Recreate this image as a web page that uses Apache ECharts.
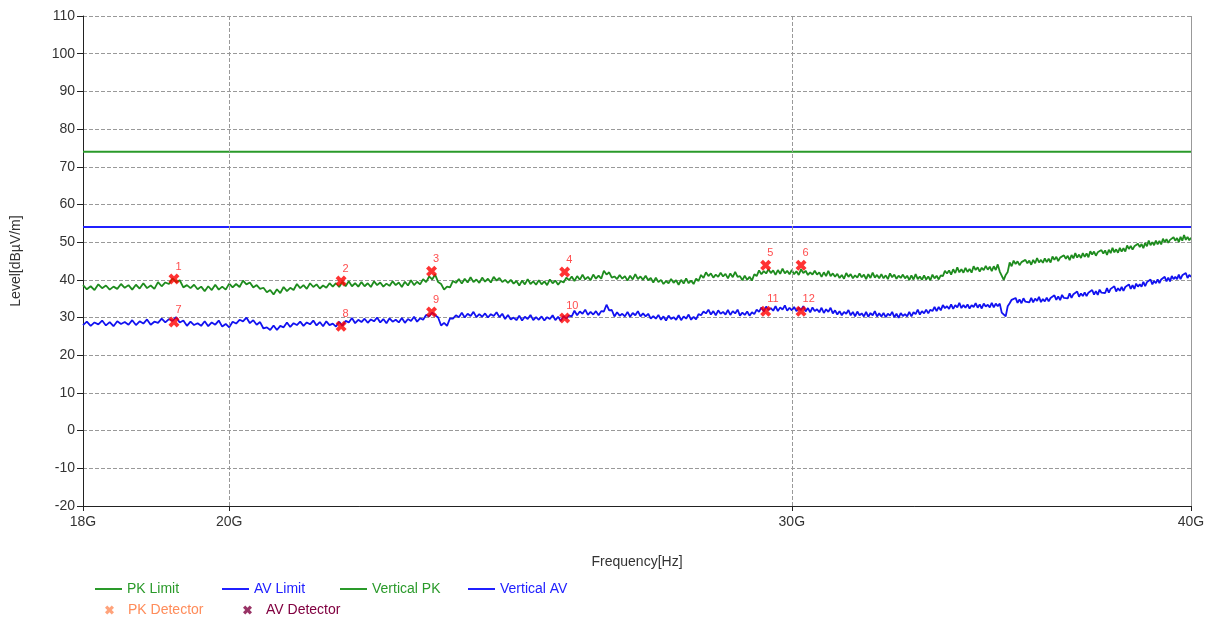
<!DOCTYPE html>
<html><head><meta charset="utf-8">
<script src="https://cdn.jsdelivr.net/npm/echarts@6/dist/echarts.min.js"></script>
<style>html,body{margin:0;padding:0;background:#fff}#c{width:1213px;height:622px}</style>
</head><body><div id="c"></div>
<script>
const freqGHz = [
18,18.05,18.1,18.15,18.2,18.25,18.3,18.35,18.4,18.45,18.5,18.55,18.6,18.65,18.7,18.75,18.8,18.85,18.9,18.95,
19,19.05,19.1,19.15,19.2,19.25,19.3,19.35,19.4,19.45,19.5,19.55,19.6,19.65,19.7,19.75,19.8,19.85,19.9,19.95,
20,20.05,20.1,20.15,20.2,20.25,20.3,20.35,20.4,20.45,20.5,20.55,20.6,20.65,20.7,20.75,20.8,20.85,20.9,20.95,
21,21.05,21.1,21.15,21.2,21.25,21.3,21.35,21.4,21.45,21.5,21.55,21.6,21.65,21.7,21.75,21.8,21.85,21.9,21.95,
22,22.05,22.1,22.15,22.2,22.25,22.3,22.35,22.4,22.45,22.5,22.55,22.6,22.65,22.7,22.75,22.8,22.85,22.9,22.95,
23,23.05,23.1,23.15,23.2,23.25,23.3,23.35,23.4,23.45,23.5,23.55,23.6,23.65,23.7,23.75,23.8,23.85,23.9,23.95,
24,24.05,24.1,24.15,24.2,24.25,24.3,24.35,24.4,24.45,24.5,24.55,24.6,24.65,24.7,24.75,24.8,24.85,24.9,24.95,
25,25.05,25.1,25.15,25.2,25.25,25.3,25.35,25.4,25.45,25.5,25.55,25.6,25.65,25.7,25.75,25.8,25.85,25.9,25.95,
26,26.05,26.1,26.15,26.2,26.25,26.3,26.35,26.4,26.45,26.5,26.55,26.6,26.65,26.7,26.75,26.8,26.85,26.9,26.95,
27,27.05,27.1,27.15,27.2,27.25,27.3,27.35,27.4,27.45,27.5,27.55,27.6,27.65,27.7,27.75,27.8,27.85,27.9,27.95,
28,28.05,28.1,28.15,28.2,28.25,28.3,28.35,28.4,28.45,28.5,28.55,28.6,28.65,28.7,28.75,28.8,28.85,28.9,28.95,
29,29.05,29.1,29.15,29.2,29.25,29.3,29.35,29.4,29.45,29.5,29.55,29.6,29.65,29.7,29.75,29.8,29.85,29.9,29.95,
30,30.05,30.1,30.15,30.2,30.25,30.3,30.35,30.4,30.45,30.5,30.55,30.6,30.65,30.7,30.75,30.8,30.85,30.9,30.95,
31,31.05,31.1,31.15,31.2,31.25,31.3,31.35,31.4,31.45,31.5,31.55,31.6,31.65,31.7,31.75,31.8,31.85,31.9,31.95,
32,32.05,32.1,32.15,32.2,32.25,32.3,32.35,32.4,32.45,32.5,32.55,32.6,32.65,32.7,32.75,32.8,32.85,32.9,32.95,
33,33.05,33.1,33.15,33.2,33.25,33.3,33.35,33.4,33.45,33.5,33.55,33.6,33.65,33.7,33.75,33.8,33.85,33.9,33.95,
34,34.05,34.1,34.15,34.2,34.25,34.3,34.35,34.4,34.45,34.5,34.55,34.6,34.65,34.7,34.75,34.8,34.85,34.9,34.95,
35,35.05,35.1,35.15,35.2,35.25,35.3,35.35,35.4,35.45,35.5,35.55,35.6,35.65,35.7,35.75,35.8,35.85,35.9,35.95,
36,36.05,36.1,36.15,36.2,36.25,36.3,36.35,36.4,36.45,36.5,36.55,36.6,36.65,36.7,36.75,36.8,36.85,36.9,36.95,
37,37.05,37.1,37.15,37.2,37.25,37.3,37.35,37.4,37.45,37.5,37.55,37.6,37.65,37.7,37.75,37.8,37.85,37.9,37.95,
38,38.05,38.1,38.15,38.2,38.25,38.3,38.35,38.4,38.45,38.5,38.55,38.6,38.65,38.7,38.75,38.8,38.85,38.9,38.95,
39,39.05,39.1,39.15,39.2,39.25,39.3,39.35,39.4,39.45,39.5,39.55,39.6,39.65,39.7,39.75,39.8,39.85,39.9,39.95,
40];
const verticalPK = [
38.6,37.5,38.3,37.3,38.8,37.8,38.5,37.4,38.2,37.6,38.9,37.9,38.6,37.4,38.7,37.7,39.1,37.8,38.5,37.6,
39.4,38.3,39.3,38.9,40.4,39.4,39.9,38.0,38.6,37.8,38.7,37.5,38.2,37.0,38.3,37.3,38.7,37.4,38.2,37.4,
39.0,38.0,38.9,38.1,39.8,38.8,39.3,38.0,38.6,37.6,37.9,36.7,37.3,36.1,37.5,36.5,38.1,37.0,37.9,37.3,
38.9,37.8,38.6,37.6,39.1,38.1,38.8,37.7,38.5,37.9,39.1,38.2,39.1,38.1,39.5,38.3,39.6,38.3,39.1,38.2,
39.4,38.3,39.1,38.1,39.6,38.6,39.3,38.2,39.0,38.4,39.6,38.6,39.3,38.1,39.5,38.5,39.9,38.6,39.5,38.8,
40.2,39.4,40.9,40.1,41.4,39.4,38.9,37.4,38.2,38.0,39.7,39.2,40.2,39.0,40.3,39.3,40.7,39.4,40.1,39.2,
40.6,39.5,40.3,39.3,40.8,39.8,40.5,39.4,40.0,39.2,40.0,39.0,39.7,38.5,39.8,38.8,40.2,38.9,39.6,38.7,
39.9,38.8,39.6,38.6,40.1,39.1,39.8,38.7,39.7,39.3,40.6,39.9,40.9,39.7,41.0,40.0,41.4,40.1,40.8,39.9,
41.4,40.3,41.1,40.3,42.4,41.4,42.0,40.6,40.9,40.2,41.3,40.3,41.0,39.8,41.1,40.1,41.5,40.2,40.9,40.0,
41.1,39.9,40.5,39.3,40.6,39.4,40.0,38.9,39.7,39.1,40.2,39.2,39.9,38.7,40.0,39.0,40.4,39.1,39.8,38.9,
40.3,39.7,41.3,40.5,42.0,41.0,41.7,40.6,41.4,40.8,41.9,40.9,41.6,40.4,41.7,40.7,42.1,40.8,41.0,39.9,
41.1,40.0,40.8,39.8,41.5,41.0,42.5,41.5,42.3,41.7,42.8,41.8,42.5,41.3,42.6,41.6,43.0,41.7,42.4,41.5,
42.6,41.5,42.3,41.3,42.8,41.8,42.4,41.3,42.0,41.4,42.4,41.4,42.0,40.8,42.0,41.0,42.4,41.0,41.7,40.8,
41.6,40.5,41.3,40.3,41.8,40.8,41.5,40.4,41.2,40.6,41.7,40.7,41.4,40.2,41.5,40.5,41.9,40.6,41.3,40.4,
41.5,40.4,41.2,40.2,41.7,40.7,41.4,40.3,41.1,40.5,41.4,40.4,41.1,39.9,41.2,40.1,41.5,40.2,40.9,40.0,
41.2,40.1,40.9,39.9,41.4,40.4,41.1,40.1,41.2,41.0,42.4,41.7,42.5,41.4,42.8,41.8,43.3,42.0,42.8,41.9,
43.2,42.1,42.9,41.9,43.6,42.6,43.3,42.2,43.2,42.6,43.7,42.7,43.5,42.3,43.6,42.6,44.1,42.2,41.7,40.0,
41.3,42.1,44.6,43.6,45.1,44.2,44.9,43.9,44.7,44.2,45.3,44.4,45.1,44.0,45.3,44.4,45.8,44.6,45.3,44.5,
45.7,44.7,45.6,44.6,46.2,45.3,46.1,45.0,45.9,45.4,46.5,45.6,46.4,45.2,46.6,45.7,47.1,45.9,46.7,45.8,
47.1,46.1,47.0,46.0,47.6,46.7,47.5,46.4,47.3,46.8,47.9,47.0,47.8,46.6,48.0,47.1,48.5,47.3,48.1,47.2,
48.5,47.5,48.4,47.5,49.1,48.2,49.0,48.0,48.9,48.4,49.6,48.7,49.5,48.4,49.8,48.9,50.4,49.2,50.0,49.2,
50.4,49.4,50.3,49.4,50.9,50.0,50.8,49.8,50.6,50.1,51.3,50.4,51.1,50.0,51.4,50.4,51.9,50.6,51.4,50.5,
51.2];
const verticalAV = [
28.0,28.9,27.8,28.7,28.2,29.2,27.9,28.8,27.7,29.0,28.3,28.8,28.1,29.3,28.0,29.0,28.4,29.5,28.1,28.9,
28.6,29.7,28.7,29.6,29.1,30.1,28.7,29.2,27.8,28.9,28.0,28.5,27.8,29.0,27.7,28.7,28.1,29.2,27.6,28.3,
27.4,28.9,28.4,29.4,29.0,30.0,28.5,29.3,28.1,28.8,27.1,27.4,26.7,27.9,26.7,27.8,27.4,28.7,27.5,28.5,
28.0,28.9,27.8,28.7,28.2,29.2,27.9,28.8,27.7,29.0,28.0,28.4,27.6,28.9,27.8,29.1,28.7,29.9,28.5,29.4,
28.8,29.7,28.6,29.5,29.0,30.0,28.7,29.6,28.5,29.8,28.9,29.4,28.7,29.9,28.6,29.6,29.1,30.2,28.9,29.8,
29.4,30.7,30.3,31.3,30.6,30.0,27.9,28.6,27.8,29.8,29.7,30.6,30.1,31.3,30.0,31.0,30.4,31.5,30.1,30.9,
30.2,31.1,30.0,30.9,30.4,31.4,30.1,31.0,29.6,30.7,29.5,30.0,29.3,30.5,29.2,30.2,29.6,30.7,29.3,30.1,
29.4,30.3,29.2,30.1,29.6,30.6,29.3,30.2,29.1,30.4,29.7,30.5,30.3,31.8,30.6,31.6,31.0,32.1,30.7,31.5,
30.8,31.7,30.6,31.7,31.6,33.4,31.9,32.0,30.3,31.4,30.5,31.0,30.3,31.5,30.2,31.2,30.6,31.7,30.3,31.1,
30.3,31.0,29.7,30.4,29.7,30.7,29.4,30.3,29.2,30.5,29.6,30.1,29.4,30.6,29.3,30.3,29.7,30.8,29.4,30.2,
29.5,30.9,30.6,31.6,31.1,32.1,30.8,31.7,30.6,31.9,31.0,31.5,30.8,32.0,30.7,31.7,31.1,32.1,30.5,31.3,
30.7,31.6,30.5,31.4,30.9,32.1,31.5,32.7,31.6,32.9,32.0,32.5,31.8,33.0,31.7,32.7,32.1,33.2,31.8,32.6,
31.9,32.8,31.7,32.6,32.0,33.0,31.6,32.5,31.4,32.7,31.7,32.2,31.4,32.6,31.2,32.2,31.5,32.6,31.1,31.9,
30.8,31.7,30.6,31.5,31.0,32.0,30.6,31.5,30.3,31.6,30.6,31.1,30.3,31.5,30.2,31.2,30.6,31.7,30.3,31.1,
30.3,31.2,30.1,31.0,30.5,31.5,30.1,31.0,29.9,31.2,30.4,30.9,30.3,31.5,30.3,31.4,30.9,32.1,30.8,31.7,
31.1,32.1,31.1,32.1,31.7,32.8,31.7,32.8,31.9,33.3,32.5,33.0,32.3,33.5,32.3,33.3,32.7,33.9,32.5,33.3,
32.6,33.5,32.4,33.3,32.8,33.8,32.6,33.5,32.4,33.7,32.9,33.4,32.7,33.9,32.7,33.7,33.0,33.7,31.3,31.3,
30.3,33.0,33.8,34.7,34.2,35.2,33.9,34.8,33.8,35.1,34.2,34.7,34.0,35.2,34.0,35.0,34.4,35.5,34.1,34.9,
34.3,35.3,34.3,35.2,34.8,35.9,34.7,35.6,34.6,36.0,35.2,35.7,35.1,36.4,35.2,36.2,35.7,36.9,35.5,36.4,
35.7,36.7,35.7,36.6,36.2,37.3,36.1,37.0,36.0,37.4,36.6,37.1,36.5,37.8,36.6,37.6,37.1,38.3,36.9,37.8,
37.1,38.1,37.1,38.1,37.7,38.8,37.6,38.6,37.6,39.0,38.2,38.8,38.2,39.5,38.3,39.4,38.9,40.1,38.8,39.7,
39.1,40.1,39.1,40.1,39.7,40.8,39.6,40.6,39.6,41.0,40.2,40.8,40.2,41.4,40.2,41.2,40.7,41.8,40.5,41.3,
40.8];
const limitFreq = [18, 40];
const pkLimit = [74, 74];
const avLimit = [54, 54];
const markerFreq = [19.22, 21.68, 23.14, 25.47, 29.44, 30.2];
const pkDetector = [40.2, 39.7, 42.3, 42.1, 43.9, 43.9];
const avDetector = [28.8, 27.7, 31.5, 29.9, 31.7, 31.7];
const pkLabels = ['1','2','3','4','5','6'];
const avLabels = ['7','8','9','10','11','12'];
const xTicks = [18, 20, 30, 40];
const xGridLines = [20, 30];

const zip = (xs, ys) => xs.map((x, i) => [x, ys[i]]);
const crossPath = 'path://M0,2.5 L2.5,0 L5,2.5 L7.5,0 L10,2.5 L7.5,5 L10,7.5 L7.5,10 L5,7.5 L2.5,10 L0,7.5 L2.5,5 Z';
const font = 'Liberation Sans, Arial, sans-serif';

const markerLabel = {
  show: true, position: [7, -12], color: '#FF2020', fontSize: 11, fontFamily: font,
};

const series = [
  { name: 'PK Limit', type: 'line', data: zip(limitFreq, pkLimit), showSymbol: false, symbol: 'none',
    lineStyle: { color: '#2A9A2A', width: 2 }, itemStyle: { color: '#2A9A2A' }, z: 3,
    markLine: { silent: true, symbol: 'none', label: { show: false },
      data: xGridLines.map(v => ({ xAxis: v, lineStyle: { type: 'dashed', color: '#999', width: 1 } }))
        .concat([{ xAxis: 40, lineStyle: { type: 'solid', color: '#999', width: 1 } }]) } },
  { name: 'AV Limit', type: 'line', data: zip(limitFreq, avLimit), showSymbol: false, symbol: 'none',
    lineStyle: { color: '#2020FF', width: 2 }, itemStyle: { color: '#2020FF' }, z: 3 },
  { name: 'Vertical PK', type: 'line', data: zip(freqGHz, verticalPK), showSymbol: false, symbol: 'none',
    lineStyle: { color: '#1E8C1E', width: 1.8 }, itemStyle: { color: '#1E8C1E' }, z: 4 },
  { name: 'Vertical AV', type: 'line', data: zip(freqGHz, verticalAV), showSymbol: false, symbol: 'none',
    lineStyle: { color: '#1212F0', width: 1.8 }, itemStyle: { color: '#1212F0' }, z: 4 },
  { name: 'PK Detector', type: 'scatter', symbol: crossPath, symbolSize: 11,
    data: markerFreq.map((f, i) => ({ value: [f, pkDetector[i]], label: { formatter: pkLabels[i] } })),
    itemStyle: { color: '#FF0000' }, label: markerLabel, z: 6 },
  { name: 'AV Detector', type: 'scatter', symbol: crossPath, symbolSize: 11,
    data: markerFreq.map((f, i) => ({ value: [f, avDetector[i]], label: { formatter: avLabels[i] } })),
    itemStyle: { color: '#FF0000' }, label: markerLabel, z: 6 },
];

function lineLegend(name, left, color) {
  return { data: [{ name: name, icon: 'rect', itemStyle: { color: color }, textStyle: { color: color } }],
    left: left, top: 582, itemWidth: 27, itemHeight: 2, itemGap: 0, selectedMode: false, padding: 0,
    textStyle: { fontSize: 14, fontFamily: font, color: color } };
}
function markLegend(name, left, color) {
  return { data: [{ name: name, itemStyle: { color: color }, textStyle: { color: color } }],
    left: left, top: 603, itemWidth: 27, itemHeight: 9, selectedMode: false, padding: 0,
    textStyle: { fontSize: 14, fontFamily: font, color: color } };
}

const option = {
  animation: false,
  backgroundColor: '#fff',
  grid: { left: 83, right: 22, top: 16, bottom: 116 },
  legend: [
    lineLegend('PK Limit', 95, '#2A9A2A'),
    lineLegend('AV Limit', 222, '#2020FF'),
    lineLegend('Vertical PK', 340, '#2A9A2A'),
    lineLegend('Vertical AV', 468, '#2020FF'),
    markLegend('PK Detector', 105, '#FF8C5A'),
    markLegend('AV Detector', 243, '#800040'),
  ],
  xAxis: {
    type: 'log', logBase: 10, min: 18, max: 40,
    name: 'Frequency[Hz]', nameLocation: 'middle', nameGap: 49,
    nameTextStyle: { fontSize: 14, fontFamily: font, color: '#333' },
    axisLine: { onZero: false, lineStyle: { color: '#222', width: 1 } },
    axisTick: { show: true, length: 5, lineStyle: { color: '#222' }, customValues: xTicks },
    axisLabel: { fontSize: 14, fontFamily: font, color: '#333', margin: 9, customValues: xTicks,
      formatter: v => Math.round(v) + 'G' },
    splitLine: { show: false }, minorTick: { show: false },
  },
  yAxis: {
    type: 'value', min: -20, max: 110, interval: 10,
    name: 'Level[dBµV/m]', nameLocation: 'middle', nameGap: 60, nameRotate: 90,
    nameTextStyle: { fontSize: 14, fontFamily: font, color: '#333' },
    axisLine: { show: true, onZero: false, lineStyle: { color: '#222', width: 1 } },
    axisTick: { show: true, length: 6, lineStyle: { color: '#222' } },
    axisLabel: { fontSize: 14, fontFamily: font, color: '#333', margin: 8 },
    splitLine: { show: true, lineStyle: { type: 'dashed', color: '#999', width: 1 } },
  },
  series: series,
};
const chart = echarts.init(document.getElementById('c'), null, { renderer: 'canvas' });
chart.setOption(option);
</script>
</body></html>
